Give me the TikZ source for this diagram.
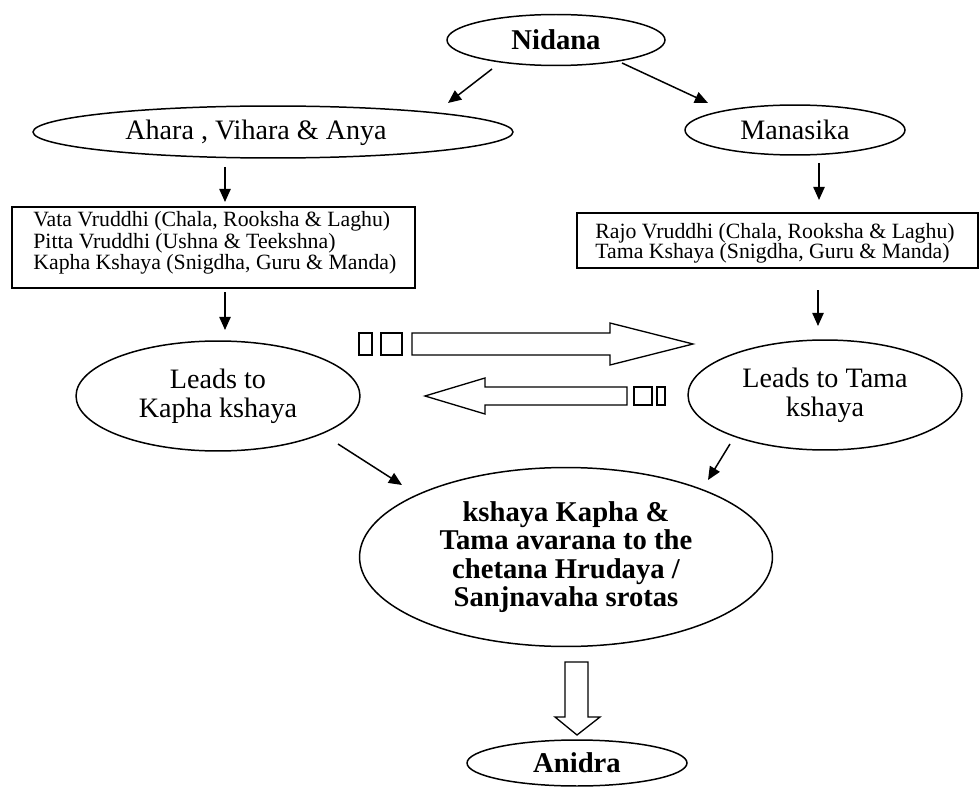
\documentclass[tikz,border=0pt]{standalone}
\usepackage{fontspec}
\setmainfont{Liberation Serif}
\usetikzlibrary{arrows.meta,shapes.geometric}
\begin{document}
\begin{tikzpicture}[x=0.02cm,y=-0.02cm,
  oval/.style={draw, ellipse, line width=0.85pt, inner sep=0pt, align=center},
  bigtxt/.style={font=\fontsize{16}{16.4}\selectfont},
  boldtxt/.style={font=\fontsize{16.3}{16.2}\selectfont\bfseries},
  smalltxt/.style={align=left, inner sep=0pt},
  frame/.style={draw, rectangle, line width=0.85pt, inner sep=0pt},
  arr/.style={line width=0.85pt, -{Triangle[length=7.5pt,width=6.5pt]}},
  hollow/.style={draw, line width=0.75pt, fill=white, line join=miter}
]
\useasboundingbox (0,0) rectangle (980,787);

% nodes
\node[oval, boldtxt, minimum width=4.36cm, minimum height=1.02cm] (nidana) at (556,40) {Nidana};
\node[oval, minimum width=9.6cm, minimum height=1.04cm] (ahara) at (273,132) {};
\node[bigtxt, inner sep=0pt] (aharatxt) at (256,133) {Ahara , Vihara \& Anya};
\node[oval, bigtxt, minimum width=4.4cm, minimum height=1.0cm] (manasika) at (795,130) {Manasika};

\node[frame, minimum width=8.06cm, minimum height=1.62cm] (lbox) at (213.5,247.5) {};
\node[smalltxt, font=\fontsize{12.4}{10.2}\selectfont, anchor=west] (ltxt) at (33,243)
  {Vata Vruddhi (Chala, Rooksha \& Laghu)\\Pitta Vruddhi (Ushna \& Teekshna)\\Kapha Kshaya (Snigdha, Guru \& Manda)};
\node[frame, minimum width=8.02cm, minimum height=1.1cm] (rbox) at (777.5,240.5) {};
\node[smalltxt, font=\fontsize{12.4}{11.3}\selectfont, anchor=west] (rtxt) at (595,243)
  {Rajo Vruddhi (Chala, Rooksha \& Laghu)\\Tama Kshaya (Snigdha, Guru \& Manda)};

\node[oval, bigtxt, minimum width=5.68cm, minimum height=2.2cm] (kapha) at (218,396) {Leads to\\Kapha kshaya};
\node[oval, bigtxt, minimum width=5.48cm, minimum height=2.2cm] (tama) at (825,395) {Leads to Tama\\kshaya};
\node[oval, boldtxt, minimum width=8.26cm, minimum height=3.58cm] (big) at (566,557)
  {kshaya Kapha \&\\Tama avarana to the\\chetana Hrudaya /\\Sanjnavaha srotas};
\node[oval, boldtxt, minimum width=4.4cm, minimum height=0.92cm] (anidra) at (577,763) {Anidra};

% connector end points
\coordinate (n1s) at (492,69);  \coordinate (n1e) at (448,103);
\coordinate (n2s) at (622,63);  \coordinate (n2e) at (708,103);
\coordinate (a1s) at (225,167); \coordinate (a1e) at (225,202);
\coordinate (l1s) at (225,292); \coordinate (l1e) at (225,330);
\coordinate (m1s) at (819,163); \coordinate (m1e) at (819,200);
\coordinate (r1s) at (818,290); \coordinate (r1e) at (818,326);
\coordinate (k1s) at (338,444); \coordinate (k1e) at (402,485);
\coordinate (t1s) at (730,444); \coordinate (t1e) at (708,480);

\draw[arr] (n1s) -- (n1e);
\draw[arr] (n2s) -- (n2e);
\draw[arr] (a1s) -- (a1e);
\draw[arr] (l1s) -- (l1e);
\draw[arr] (m1s) -- (m1e);
\draw[arr] (r1s) -- (r1e);
\draw[arr] (k1s) -- (k1e);
\draw[arr] (t1s) -- (t1e);

% hollow block arrows
\draw[hollow] (359,333) rectangle (372,355);
\draw[hollow] (381,333) rectangle (402,355);
\draw[hollow] (412,333) -- (610,333) -- (610,323) -- (693,344) -- (610,365) -- (610,355) -- (412,355) -- cycle;

\draw[hollow] (627,387) -- (485,387) -- (485,378) -- (425,396) -- (485,414) -- (485,405) -- (627,405) -- cycle;
\draw[hollow] (634,387) rectangle (652,405);
\draw[hollow] (657,387) rectangle (665,405);

\draw[hollow] (565,662) -- (588,662) -- (588,717) -- (600,717) -- (577,735) -- (555,717) -- (565,717) -- cycle;
\end{tikzpicture}
\end{document}
